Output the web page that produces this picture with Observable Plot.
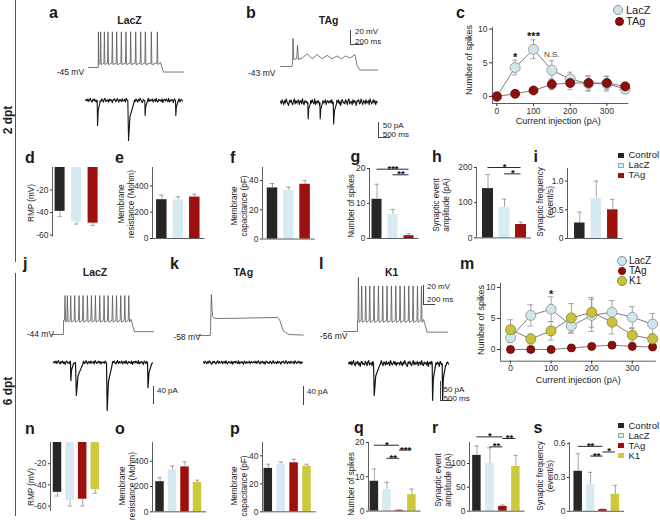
<!DOCTYPE html>
<html><head><meta charset="utf-8">
<script src="https://cdn.jsdelivr.net/npm/d3@7"></script>
<script src="https://cdn.jsdelivr.net/npm/@observablehq/plot@0.6"></script>
<style>
html,body{margin:0;padding:0;background:#fff;}
#fig{position:relative;width:660px;height:520px;overflow:hidden;font-family:"Liberation Sans",Arial,Helvetica,sans-serif;color:#222;background:#fff;}
#fig > *{position:absolute;}
.t{white-space:nowrap;line-height:1;}
</style></head><body><div id="fig"></div>
<script>
// ---------------- DATA ----------------
const groups = ["Control","LacZ","TAg","K1"];
const groupColors = ["#262626","#d7eaf2","#9e0f0f","#cdc93c"];
const groups2 = ["Control","LacZ","TAg"];
const groups6 = ["Control","LacZ","TAg","K1"];

// 2 dpt bars
const rmp2 = [-39, -48.5, -49.5], rmp2Err = [4.5, 1.8, 2];
const res2 = [295, 292, 315], res2Err = [35, 25, 22];
const cap2 = [35, 33.5, 37.5], cap2Err = [3, 2, 2.5];
const spk2 = [11.2, 6.8, 0.8], spk2Err = [4.3, 1.5, 0.5];
const amp2 = [140, 86, 38], amp2Err = [40, 24, 7];
const frq2 = [0.27, 0.7, 0.5], frq2Err = [0.19, 0.3, 0.18];
// 6 dpt bars
const rmp6 = [-47, -55, -53.5, -44.5], rmp6Err = [3.5, 5, 6.5, 3.5];
const res6 = [238, 330, 355, 232], res6Err = [32, 32, 40, 18];
const cap6 = [31, 34, 35, 32.5], cap6Err = [3, 1.5, 2.5, 1.5];
const spk6 = [8.7, 6.3, 0.2, 4.8], spk6Err = [3.6, 2.1, 0.1, 1.6];
const amp6 = [117, 100, 10, 94], amp6Err = [20, 33, 3, 23];
const frq6 = [0.355, 0.24, 0.015, 0.15], frq6Err = [0.155, 0.105, 0.005, 0.08];

// significance brackets [from, to, level, label]
const spk2Sig = [[0, 2, 19.8, "***"], [1, 2, 18.2, "**"]];
const amp2Sig = [[0, 2, 200, "*"], [1, 2, 182, "*"]];
const spk6Sig = [[0, 2, 19.2, "*"], [2, 3, 17.8, "***"], [1, 2, 15.4, "**"]];
const amp6Sig = [[0, 2, 155.8, "*"], [2, 3, 152.4, "**"], [1, 2, 134.8, "**"]];
const frq6Sig = [[0, 2, 0.576, "**"], [2, 3, 0.526, "*"], [1, 2, 0.49, "**"]];

// spikes vs current injection
const currents = [0, 50, 100, 150, 200, 250, 300, 350];
const lacz2 = [0, 4.3, 7.0, 3.9, 2.6, 1.9, 1.9, 1.1];
const lacz2Err = [0.2, 1.1, 1.4, 1.4, 1.0, 1.1, 1.1, 0.6];
const tag2 = [0, 0.4, 0.9, 1.8, 2.0, 2.0, 2.0, 1.5];
const tag2Err = [0, 0, 0, 0.8, 1.0, 1.1, 1.0, 0.6];
const c2StarX = [50, 100, 150], c2StarY = [6.3, 9.35, 6.3], c2StarLabel = ["*", "***", "N.S."];
const lacz6 = [1.9, 5.5, 6.5, 3.8, 5.5, 6.0, 5.2, 4.1];
const lacz6Err = [0.8, 1.7, 2.0, 1.2, 2.6, 1.9, 1.7, 1.7];
const tag6 = [0, 0, 0, 0.25, 0.5, 0.7, 0.5, 0.4];
const tag6Err = [0, 0, 0, 0, 0, 0, 0, 0];
const k16 = [3.2, 1.7, 3.0, 5.1, 6.0, 4.4, 2.3, 1.7];
const k16Err = [1.6, 0.8, 1.5, 2.3, 2.4, 1.9, 1.1, 0.8];
const c6StarX = [100], c6StarY = [9.4], c6StarLabel = ["*"];

// example traces (ms, mV / pA)
const aSpikeT = [0, 38, 100, 160, 233, 305, 383, 460, 538, 622, 705, 783, 883, 983];
const aSpikePk = [6, 6, 6, 6, 6, 6, 6, 6, 6, 6, 6, 6, 6, 6];
const bVm = [[-200,-43],[-10,-43],[0,-40],[8,-3],[22,-33],[70,-32],[83,-13],[100,-33],[160,-31],[245,-25],[330,-32],[412,-26],[495,-32],[578,-27],[660,-32],[745,-28],[815,-32],[883,-28],[960,-31],[1040,-26],[1080,-42],[1120,-48],[1250,-48],[1417,-48]];
const jSpikeT = [19, 53, 100, 157, 219, 276, 339, 396, 453, 515, 577, 634, 697, 754, 815, 873, 930];
const jSpikePk = [-3, -3, -3, -3, -3, -3, -3, -3, -3, -3, -3, -3, -3, -3, -3, -3, -3];
const kVm = [[-190,-58],[-5,-58],[0,-55],[12,-15],[28,-38],[60,-40],[300,-40],[600,-39.5],[960,-39],[990,-42],[1040,-53],[1120,-57],[1325,-57.5]];
const lSpikeT = [10, 57, 114, 172, 233, 296, 357, 419, 482, 544, 605, 668, 730, 791, 854, 911];
const lSpikePk = [1, -8, -8, -8, -8, -8, -8, -8, -8, -8, -8, -8, -8, -8, -8, -8];
const noise1 = [0,2,-1,3,-2,1,4,-1,-3,2,0,3,-2,1,-4,2,3,-1,0,-2,3,1,-3,2,4,-2,0,1,-3,3,-1,2,0,-4,2,1,3,-2,-1,4,0,-3,2,1,-2,3,-1,0,2,-3,4,1,-2,0,3,-1,2,-3,1,0];
const noise2 = [1,-2,3,0,-3,2,-1,4,1,-2,-4,2,0,3,-1,-3,1,4,-2,2,-1,0,3,-3,1,2,-2,4,-1,-3,2,0,1,-2,3,-4,1,2,-1,3,0,-2,4,-3,1,-1,2,0,-4,3,1,-2,2,-1,0,3,-3,1,2,-1];
// synaptic events: [time ms, amplitude pA, duration ms]
const aEvents = [[488, 78, 120], [1764, 125, 260], [2473, 47, 110], [3753, 47, 110]];
const bEvents = [[1139, 52, 110], [1642, 52, 110], [2200, 68, 140]];
const jEvents = [[607, 38, 110], [785, 69, 260], [1892, 101, 200], [3356, 53, 150]];
const kEvents = [];
const lEvents = [[893, 80, 220], [2988, 92, 120], [3345, 92, 120]];

// ---------------- HELPERS ----------------
const fig = document.getElementById("fig");
const FONT = '"Liberation Sans", Arial, Helvetica, sans-serif';
const AX = "#333", ERR = "#8f8f8f";
function place(el, left, top) { el.style.position = "absolute"; el.style.left = left + "px"; el.style.top = top + "px"; fig.appendChild(el); return el; }
function txt(s, x, y, o = {}) {
  const size = o.size || 9, d = document.createElement("div");
  d.className = "t"; d.textContent = s;
  d.style.fontSize = size + "px"; d.style.fontWeight = o.weight || "normal"; d.style.color = o.color || "#222";
  d.style.left = x + "px"; d.style.top = (y - 0.846 * size) + "px";
  const a = o.anchor || "start";
  d.style.transform = a === "middle" ? "translateX(-50%)" : a === "end" ? "translateX(-100%)" : "none";
  fig.appendChild(d);
}
function vtxt(lines, cx, cy, o = {}) {
  const size = o.size || 8.5, d = document.createElement("div");
  d.className = "t";
  d.style.fontSize = size + "px"; d.style.lineHeight = String(o.lh || 1.18); d.style.textAlign = "center";
  d.style.fontWeight = o.weight || "normal"; d.style.color = o.color || "#222";
  lines.forEach((l, i) => { if (i) d.appendChild(document.createElement("br")); d.appendChild(document.createTextNode(l)); });
  d.style.left = cx + "px"; d.style.top = cy + "px";
  d.style.transform = "translate(-50%,-50%) rotate(-90deg)";
  fig.appendChild(d);
}
function box(x, y, w, h, css) { const d = document.createElement("div"); d.style.left = x + "px"; d.style.top = y + "px"; d.style.width = w + "px"; d.style.height = h + "px"; d.style.boxSizing = "border-box"; Object.assign(d.style, css); fig.appendChild(d); }
const baseStyle = {background: "transparent", overflow: "visible", fontFamily: FONT, color: AX};

function barPanel(c) {
  const n = c.vals.length;
  const P = c.off + (n - 1) * c.spacing + c.barW / 2 + 5;
  const xlo = -c.off / c.spacing, xhi = (P - c.off) / c.spacing;
  const [lo, hi] = c.domain;
  const ML = 28, MR = 4, MT = 24, MB = 6;
  const yHiPx = c.zeroY - hi * c.unitPx, yLoPx = c.zeroY - lo * c.unitPx;
  const hw = c.barW / 2 / c.spacing, cap = 2.2 / c.spacing;
  const neg = hi <= 0, sg = neg ? -1 : 1;
  const rows = c.groups.map((g, i) => ({g, i, v: c.vals[i], e: c.errs[i]}));
  const marks = [
    Plot.ruleX(rows, {x: "i", y1: "v", y2: d => d.v + sg * d.e, stroke: ERR, strokeWidth: 0.8}),
    Plot.ruleY(rows, {y: d => d.v + sg * d.e, x1: d => d.i - cap, x2: d => d.i + cap, stroke: ERR, strokeWidth: 0.8}),
    Plot.rectY(rows, {x1: d => d.i - hw, x2: d => d.i + hw, y1: 0, y2: "v", fill: "g"}),
    Plot.ruleX([xlo], {y1: lo, y2: hi, stroke: AX, strokeWidth: 0.8})
  ];
  if (!neg) marks.push(Plot.ruleY([0], {x1: xlo, x2: xhi, stroke: AX, strokeWidth: 0.8}));
  if (c.sig) {
    const br = c.sig.map(([from, to, level, label]) => ({from, to, level, label}));
    marks.push(Plot.ruleY(br, {y: "level", x1: "from", x2: "to", stroke: "#111", strokeWidth: 0.9}));
    marks.push(Plot.text(br, {x: d => (d.from + d.to) / 2, y: "level", text: "label", dy: 2.5, lineAnchor: "bottom", fontSize: 9.5, fontWeight: "bold", fill: "#111"}));
  }
  const el = Plot.plot({
    width: ML + P + MR, height: MT + (yLoPx - yHiPx) + MB,
    marginLeft: ML, marginRight: MR, marginTop: MT, marginBottom: MB,
    x: {domain: [xlo, xhi], axis: null},
    y: {domain: [lo, hi], ticks: c.ticks, tickFormat: c.fmt, tickSize: 2, tickPadding: 2, label: null},
    color: {domain: groups, range: groupColors},
    style: {...baseStyle, fontSize: "8.5px"},
    marks
  });
  place(el, c.axisX - ML, yHiPx - MT);
}

function linePanel(c) {
  const ML = 30, MR = 4, MT = 10, MB = 22;
  const xlo = (c.axisX - c.x0px) / c.xUnit, xhi = (c.xRightPx - c.x0px) / c.xUnit;
  const ylo = (c.y0px - c.xAxisY) / c.yUnit, yhi = (c.y0px - c.yTopPx) / c.yUnit;
  const marks = [
    Plot.ruleX([xlo], {y1: ylo, y2: yhi, stroke: AX, strokeWidth: 0.8}),
    Plot.ruleY([ylo], {x1: xlo, x2: xhi, stroke: AX, strokeWidth: 0.8})
  ];
  const all = c.series.map(s => currents.map((x, k) => ({x, y: s.vals[k], e: s.errs[k]})));
  all.forEach(rows => marks.push(Plot.line(rows, {x: "x", y: "y", stroke: "#6e6e6e", strokeWidth: 0.9})));
  all.forEach(rows => {
    const r = rows.filter(d => d.e > 0);
    marks.push(Plot.ruleX(r, {x: "x", y1: d => d.y - d.e, y2: d => d.y + d.e, stroke: ERR, strokeWidth: 0.8}));
    marks.push(Plot.ruleY(r, {y: d => d.y + d.e, x1: d => d.x - 7, x2: d => d.x + 7, stroke: ERR, strokeWidth: 0.8}));
    marks.push(Plot.ruleY(r, {y: d => d.y - d.e, x1: d => d.x - 7, x2: d => d.x + 7, stroke: ERR, strokeWidth: 0.8}));
  });
  c.series.forEach((s, i) => marks.push(Plot.dot(all[i], {x: "x", y: "y", r: s.r, fill: s.fill, stroke: s.stroke, strokeWidth: 0.8})));
  const st = c.starX.map((x, k) => ({x, y: c.starY[k], t: c.starLabel[k]}));
  marks.push(Plot.text(st.filter(d => d.t.startsWith("*")), {x: "x", y: "y", text: "t", fontSize: 11, fontWeight: "bold", fill: "#111", dy: 3}));
  marks.push(Plot.text(st.filter(d => !d.t.startsWith("*")), {x: "x", y: "y", text: "t", fontSize: 8, fill: "#444"}));
  const el = Plot.plot({
    width: ML + (c.xRightPx - c.axisX) + MR, height: MT + (c.xAxisY - c.yTopPx) + MB,
    marginLeft: ML, marginRight: MR, marginTop: MT, marginBottom: MB,
    x: {domain: [xlo, xhi], ticks: [0, 100, 200, 300], tickSize: 3, tickPadding: 1, label: null},
    y: {domain: [ylo, yhi], ticks: [0, 5, 10], tickSize: 3, tickPadding: 2, label: null},
    style: {...baseStyle, fontSize: "8.5px"},
    marks
  });
  place(el, c.axisX - ML, c.yTopPx - MT);
}

function spikePts(start, end, base, trough, stepEnd, post, times, peaks) {
  const pts = [[start, base], [-1, base], [1, trough]];
  times.forEach((t, i) => pts.push([Math.max(t - 5, 2), trough], [t + 3, peaks[i]], [t + 12, trough - 2]));
  pts.push([stepEnd, trough + 1], [stepEnd + 50, post], [end, post]);
  return pts;
}
function currentPts(dur, noise, amp, events) {
  const n = noise.length;
  let pts = noise.map((v, k) => [k * dur / (n - 1), v * amp]);
  for (const [t, a, d] of events) {
    pts = pts.filter(p => p[0] < t || p[0] > t + d);
    pts.push([t, 0], [t + d * 0.12, -a], [t + d * 0.35, -a * 0.4], [t + d, -a * 0.05]);
  }
  return pts.sort((p, q) => p[0] - q[0]);
}
function tracePlot(pts, o) {
  const xd = [-(o.ox - o.left) * o.msPx, (o.left + o.width - o.ox) * o.msPx];
  const yd = [o.ov - (o.top + o.height - o.oy) * o.uPx, o.ov + (o.oy - o.top) * o.uPx];
  const el = Plot.plot({
    width: o.width, height: o.height, margin: 0,
    x: {domain: xd, axis: null}, y: {domain: yd, axis: null},
    style: baseStyle,
    marks: [Plot.line(pts, {x: d => d[0], y: d => d[1], stroke: o.stroke, strokeWidth: o.sw})]
  });
  place(el, o.left, o.top);
}

// ---------------- FRAME ----------------
box(14.5, 0, 1, 262, {background: "#555"});
box(14.5, 273, 1, 243, {background: "#555"});
vtxt(["2 dpt"], 8, 120, {size: 12, weight: "bold", color: "#222"});
vtxt(["6 dpt"], 8, 391, {size: 12, weight: "bold", color: "#222"});

// panel letters
const L = 16;
[["a",49,18.5],["b",246,18.5],["c",456,18.5],["d",25,163.5],["e",115,163.5],["f",230,163.5],["g",350.5,162.5],["h",432,162.5],["i",533.5,162.5],
 ["j",23,270],["k",170,270],["l",319,270],["m",460,270],["n",25,435],["o",115,435],["p",230,435],["q",354,434],["r",432,434],["s",533.5,434]]
 .forEach(([s, x, y]) => txt(s, x, y, {size: L, weight: "bold", color: "#1a1a1a"}));

// ---------------- TRACES ----------------
const VC = "#555", IC = "#151515";
txt("LacZ", 129.5, 24, {size: 10.5, weight: "bold", anchor: "middle"});
txt("TAg", 328.7, 24, {size: 10.5, weight: "bold", anchor: "middle"});
txt("LacZ", 95, 276, {size: 10.5, weight: "bold", anchor: "middle"});
txt("TAg", 243.3, 276, {size: 10.5, weight: "bold", anchor: "middle"});
txt("K1", 391.7, 276, {size: 10.5, weight: "bold", anchor: "middle"});

tracePlot(spikePts(-162, 1422, -45, -38.8, 1038, -51.5, aSpikeT, aSpikePk), {ox: 97.7, oy: 67, ov: -45, msPx: 16.67, uPx: 1.4286, left: 84, top: 26, width: 102, height: 50, stroke: VC, sw: 0.8});
tracePlot(bVm, {ox: 292, oy: 66, ov: -43, msPx: 16.67, uPx: 1.4286, left: 276, top: 34, width: 104, height: 42, stroke: VC, sw: 0.8});
tracePlot(spikePts(-157, 1286, -44, -29, 965, -41, jSpikeT, jSpikePk), {ox: 63, oy: 334, ov: -44, msPx: 14.29, uPx: 1.053, left: 48, top: 290, width: 110, height: 50, stroke: VC, sw: 0.8});
tracePlot(kVm, {ox: 210, oy: 335, ov: -58, msPx: 14.29, uPx: 1.053, left: 193, top: 290, width: 113, height: 50, stroke: VC, sw: 0.8});
tracePlot(spikePts(-200, 1287, -56, -44.4, 945, -56.7, lSpikeT, lSpikePk), {ox: 357, oy: 331, ov: -56, msPx: 14.29, uPx: 1.053, left: 340, top: 272, width: 110, height: 64, stroke: VC, sw: 0.8});

tracePlot(currentPts(4040, noise1.concat(noise2), 1.7, aEvents), {ox: 85, oy: 100, ov: 0, msPx: 41.7, uPx: 3.125, left: 82, top: 86, width: 104, height: 58, stroke: IC, sw: 1.1});
tracePlot(currentPts(4040, noise2.concat(noise1), 2.6, bEvents), {ox: 280, oy: 101.7, ov: 0, msPx: 41.7, uPx: 3.125, left: 277, top: 86, width: 104, height: 42, stroke: IC, sw: 1.1});
tracePlot(currentPts(3535, noise1.concat(noise2), 1.0, jEvents), {ox: 53, oy: 362, ov: 0, msPx: 35.7, uPx: 2.1, left: 50, top: 350, width: 106, height: 65, stroke: IC, sw: 1.2});
tracePlot(currentPts(3535, noise2.concat(noise1), 0.9, kEvents), {ox: 203, oy: 362, ov: 0, msPx: 35.7, uPx: 2.1, left: 200, top: 350, width: 106, height: 30, stroke: IC, sw: 1.2});
tracePlot(currentPts(3570, noise1.concat(noise2), 1.8, lEvents), {ox: 348, oy: 363, ov: 0, msPx: 35.7, uPx: 2.5, left: 345, top: 350, width: 106, height: 55, stroke: IC, sw: 1.2});

// membrane potential labels
const mvS = 8.5;
txt("-45 mV", 56.7, 75, {size: mvS});
txt("-43 mV", 248, 76.5, {size: mvS});
txt("-44 mV", 26.7, 337, {size: mvS});
txt("-58 mV", 173.3, 340, {size: mvS});
txt("-56 mV", 320, 339, {size: mvS});

// scale bars
const SB = "1px solid #444";
box(350, 30, 13, 15, {borderLeft: SB, borderBottom: SB});
txt("20 mV", 355, 35, {size: 8}); txt("200 ms", 355, 44.3, {size: 8});
box(378.3, 121.7, 11.7, 16, {borderLeft: SB, borderBottom: SB});
txt("50 pA", 382.7, 128.3, {size: 8}); txt("500 ms", 382.7, 137.7, {size: 8});
box(422.7, 285, 12.3, 20, {borderLeft: SB, borderBottom: SB});
txt("20 mV", 427, 289.7, {size: 8}); txt("200 ms", 427, 302.7, {size: 8});
box(153.3, 386, 1, 18, {borderLeft: SB});
txt("40 pA", 157, 394, {size: 8});
box(303.3, 385.5, 1, 19, {borderLeft: SB});
txt("40 pA", 307, 394.3, {size: 8});
box(440, 380.5, 11.7, 20, {borderLeft: SB, borderBottom: SB});
txt("50 pA", 443.5, 392.3, {size: 8}); txt("500 ms", 443.5, 401.7, {size: 8});

// ---------------- LINE CHARTS ----------------
const lacZDot = {fill: "#d4e5ea", stroke: "#7d949b"}, tagDot = {fill: "#8e0d0d", stroke: "#5e0808"}, k1Dot = {fill: "#c9c23a", stroke: "#8a8630"};
linePanel({axisX: 491.7, xAxisY: 102.7, x0px: 496, xUnit: 0.367, y0px: 95.7, yUnit: 6.74, yTopPx: 26.7, xRightPx: 628,
  series: [{vals: lacz2, errs: lacz2Err, r: 5, ...lacZDot}, {vals: tag2, errs: tag2Err, r: 4.5, ...tagDot}],
  starX: c2StarX, starY: c2StarY, starLabel: c2StarLabel});
vtxt(["Number of spikes"], 469, 60, {size: 9});
txt("Current injection (pA)", 558.3, 125, {size: 9, anchor: "middle"});
linePanel({axisX: 500, xAxisY: 361, x0px: 510, xUnit: 0.406, y0px: 349.3, yUnit: 6.2, yTopPx: 283.3, xRightPx: 656,
  series: [{vals: lacz6, errs: lacz6Err, r: 5, ...lacZDot}, {vals: tag6, errs: tag6Err, r: 4, ...tagDot}, {vals: k16, errs: k16Err, r: 5, ...k1Dot}],
  starX: c6StarX, starY: c6StarY, starLabel: c6StarLabel});
vtxt(["Number of spikes"], 481, 320, {size: 9});
txt("Current injection (pA)", 578.3, 384, {size: 9, anchor: "middle"});

function dotKey(cx, cy, r, st) { box(cx - r, cy - r, 2 * r, 2 * r, {borderRadius: "50%", background: st.fill, border: "0.8px solid " + st.stroke}); }
dotKey(618.3, 10, 5, lacZDot); txt("LacZ", 626, 14, {size: 11});
dotKey(619, 21, 4.5, tagDot); txt("TAg", 626, 25, {size: 11});
dotKey(621.7, 261, 5, lacZDot); txt("LacZ", 629, 264.5, {size: 10});
dotKey(621.7, 271, 4, tagDot); txt("TAg", 629, 274.5, {size: 10});
dotKey(621.7, 281, 5, k1Dot); txt("K1", 629, 284.5, {size: 10});

// ---------------- BAR CHARTS ----------------
const f0 = d => d === 0 ? "0" : String(d);
const f1 = d => d === 0 ? "0" : d.toFixed(1);
barPanel({groups: groups2, vals: rmp2, errs: rmp2Err, axisX: 51.7, off: 7.6, spacing: 16.5, barW: 10, zeroY: 167, unitPx: 1.125, domain: [-62, 0], ticks: [-20, -40, -60], fmt: f0});
barPanel({groups: groups2, vals: res2, errs: res2Err, axisX: 151.7, off: 9.3, spacing: 16.5, barW: 10.5, zeroY: 238.3, unitPx: 0.1315, domain: [0, 540], ticks: [0, 200, 400], fmt: f0});
barPanel({groups: groups2, vals: cap2, errs: cap2Err, axisX: 261.7, off: 10, spacing: 16.3, barW: 10.5, zeroY: 238.3, unitPx: 1.46, domain: [0, 49], ticks: [0, 20, 40], fmt: f0});
barPanel({groups: groups2, vals: spk2, errs: spk2Err, axisX: 369.3, off: 7.5, spacing: 16, barW: 10, zeroY: 237.7, unitPx: 3.5, domain: [0, 20], ticks: [0, 10, 20], fmt: f0, sig: spk2Sig});
barPanel({groups: groups2, vals: amp2, errs: amp2Err, axisX: 475.7, off: 11.5, spacing: 16.5, barW: 11, zeroY: 237.7, unitPx: 0.352, domain: [0, 200], ticks: [0, 100, 200], fmt: f0, sig: amp2Sig});
barPanel({groups: groups2, vals: frq2, errs: frq2Err, axisX: 566.7, off: 12.3, spacing: 16.5, barW: 10.5, zeroY: 237.7, unitPx: 57.4, domain: [0, 1.22], ticks: [0, 0.5, 1.0], fmt: f1});

barPanel({groups: groups6, vals: rmp6, errs: rmp6Err, axisX: 50, off: 7, spacing: 12.6, barW: 8.5, zeroY: 442.3, unitPx: 1.06, domain: [-65, 0], ticks: [-20, -40, -60], fmt: f0});
barPanel({groups: groups6, vals: res6, errs: res6Err, axisX: 151.7, off: 7.5, spacing: 12.5, barW: 8.5, zeroY: 511.7, unitPx: 0.1265, domain: [0, 548], ticks: [0, 200, 400], fmt: f0});
barPanel({groups: groups6, vals: cap6, errs: cap6Err, axisX: 261.7, off: 5.8, spacing: 12.9, barW: 8.5, zeroY: 511.7, unitPx: 1.40, domain: [0, 49.5], ticks: [0, 20, 40], fmt: f0});
barPanel({groups: groups6, vals: spk6, errs: spk6Err, axisX: 368.3, off: 5.9, spacing: 12.5, barW: 8.5, zeroY: 511, unitPx: 3.43, domain: [0, 20], ticks: [0, 10, 20], fmt: f0, sig: spk6Sig});
barPanel({groups: groups6, vals: amp6, errs: amp6Err, axisX: 469.3, off: 7.4, spacing: 13, barW: 8.5, zeroY: 511, unitPx: 0.477, domain: [0, 144], ticks: [0, 50, 100], fmt: f0, sig: amp6Sig});
barPanel({groups: groups6, vals: frq6, errs: frq6Err, axisX: 569.3, off: 8.7, spacing: 12.4, barW: 8.5, zeroY: 511, unitPx: 112.8, domain: [0, 0.61], ticks: [0, 0.3, 0.6], fmt: f1, sig: frq6Sig});

// y labels
const yl = 8.2;
vtxt(["RMP (mV)"], 31.7, 203, {size: yl});
vtxt(["Membrane", "resistance (Mohm)"], 127, 204, {size: yl});
vtxt(["Membrane", "capacitance (pF)"], 240, 206, {size: yl});
vtxt(["Number of spikes"], 352, 206, {size: yl});
vtxt(["Synaptic event", "amplitude (pA)"], 442, 205, {size: yl});
vtxt(["Synaptic frequency", "(event/s)"], 545.5, 202, {size: yl});
vtxt(["RMP (mV)"], 31.7, 487, {size: yl});
vtxt(["Membrane", "resistance (Mohm)"], 127.5, 486, {size: yl});
vtxt(["Membrane", "capacitance (pF)"], 240, 486, {size: yl});
vtxt(["Number of spikes"], 352, 484, {size: yl});
vtxt(["Synaptic event", "amplitude (pA)"], 443.5, 480, {size: yl});
vtxt(["Synaptic frequency", "(event/s)"], 545.5, 476, {size: yl});

// bar legends
function barLegend(names, ys) {
  names.forEach((g, i) => {
    const col = groupColors[groups.indexOf(g)];
    box(617.5, ys[i] - 2.5, 6, 5, {background: col, border: g === "LacZ" ? "0.6px solid #9aa" : "none"});
    txt(g, 628.5, ys[i] + 3.3, {size: 9.5});
  });
}
barLegend(groups2, [155, 165, 175]);
barLegend(groups6, [425.7, 435.7, 445.3, 455.7]);
</script>
</body></html>
